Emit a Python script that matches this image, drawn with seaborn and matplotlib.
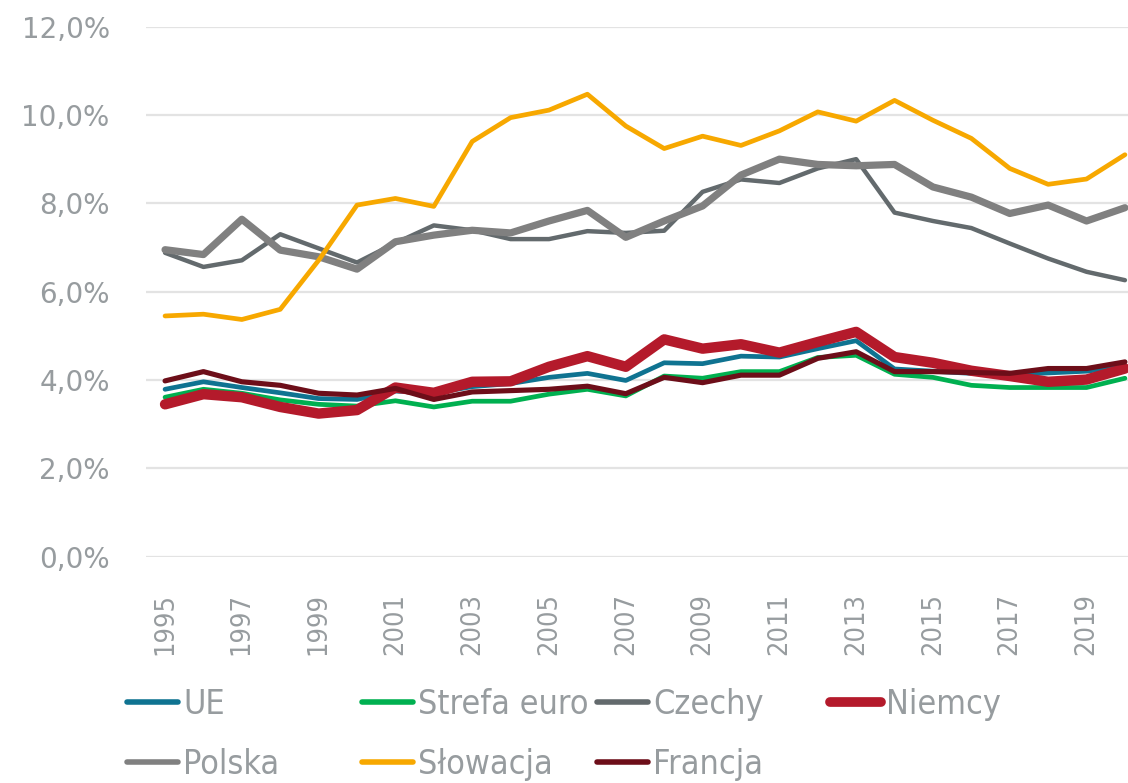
import matplotlib
matplotlib.use("Agg")
import matplotlib.pyplot as plt
from matplotlib.ticker import FuncFormatter, FixedLocator
from matplotlib.lines import Line2D
import seaborn as sns
import pandas as pd

years = list(range(1995, 2021))

ue = [3.79, 3.96, 3.83, 3.71, 3.58, 3.56, 3.75, 3.70, 3.85, 3.92, 4.06, 4.15, 3.99,
      4.39, 4.37, 4.54, 4.52, 4.71, 4.89, 4.25, 4.20, 4.15, 4.12, 4.16, 4.20, 4.30]
strefa_euro = [3.61, 3.79, 3.70, 3.55, 3.45, 3.41, 3.53, 3.39, 3.52, 3.52, 3.68, 3.79, 3.64,
               4.09, 4.04, 4.19, 4.19, 4.51, 4.56, 4.13, 4.06, 3.88, 3.83, 3.83, 3.83, 4.04]
czechy = [6.88, 6.56, 6.71, 7.30, 6.98, 6.66, 7.10, 7.50, 7.39, 7.19, 7.19, 7.37, 7.33,
          7.38, 8.26, 8.54, 8.46, 8.79, 9.00, 7.79, 7.60, 7.44, 7.09, 6.75, 6.45, 6.26]
niemcy = [3.45, 3.68, 3.61, 3.39, 3.24, 3.32, 3.83, 3.71, 3.96, 3.97, 4.30, 4.54, 4.30,
          4.92, 4.71, 4.81, 4.62, 4.86, 5.09, 4.52, 4.39, 4.21, 4.09, 3.96, 4.01, 4.26]
polska = [6.95, 6.84, 7.64, 6.94, 6.79, 6.51, 7.13, 7.28, 7.39, 7.33, 7.60, 7.84, 7.23,
          7.60, 7.94, 8.64, 9.00, 8.88, 8.85, 8.88, 8.37, 8.14, 7.77, 7.96, 7.60, 7.90]
slowacja = [5.45, 5.49, 5.37, 5.60, 6.71, 7.96, 8.11, 7.93, 9.40, 9.94, 10.11, 10.47, 9.75,
            9.24, 9.52, 9.31, 9.64, 10.07, 9.86, 10.33, 9.88, 9.47, 8.79, 8.43, 8.55, 9.10]
francja = [3.98, 4.19, 3.96, 3.88, 3.70, 3.66, 3.81, 3.56, 3.73, 3.76, 3.79, 3.86, 3.69,
           4.06, 3.94, 4.11, 4.11, 4.49, 4.64, 4.19, 4.19, 4.17, 4.15, 4.26, 4.26, 4.41]

series_names = ["UE", "Strefa euro", "Czechy", "Niemcy", "Polska", "Słowacja", "Francja"]
series_values = [ue, strefa_euro, czechy, niemcy, polska, slowacja, francja]
tick_years = list(range(1995, 2020, 2))

colors = {
    "UE": "#0f7391",
    "Strefa euro": "#00b050",
    "Czechy": "#636a6d",
    "Niemcy": "#b41a2b",
    "Polska": "#808080",
    "Słowacja": "#f7a800",
    "Francja": "#6d0e19",
}
widths = {
    "UE": 3.4,
    "Strefa euro": 3.4,
    "Czechy": 3.2,
    "Niemcy": 7.5,
    "Polska": 5.2,
    "Słowacja": 3.4,
    "Francja": 3.7,
}

df = pd.DataFrame({"rok": years})
for name, vals in zip(series_names, series_values):
    df[name] = vals
long = df.melt(id_vars="rok", var_name="seria", value_name="wartosc")

sns.set_style("white")
plt.rcParams["font.family"] = ["DejaVu Sans"]

text_gray = "#979c9f"

fig = plt.figure(figsize=(11.28, 7.83), dpi=100)
ax = fig.add_axes([0.1293, 0.289, 0.8707, 0.677])

for name in series_names:
    sub = long[long["seria"] == name]
    sns.lineplot(data=sub, x="rok", y="wartosc", ax=ax, color=colors[name],
                 linewidth=widths[name], solid_capstyle="round",
                 solid_joinstyle="round", legend=False)

ax.set_xlim(1994.5, 2020.08)
ax.set_ylim(0, 12)
ax.yaxis.set_major_locator(FixedLocator([0, 2, 4, 6, 8, 10, 12]))
ax.yaxis.set_major_formatter(FuncFormatter(lambda v, p: f"{v:.1f}%".replace(".", ",")))
ax.xaxis.set_major_locator(FixedLocator(tick_years))
ax.set_xticklabels([str(y) for y in tick_years], rotation=90)
ax.grid(axis="y", color="#e3e3e3", linewidth=1.6)
ax.set_axisbelow(True)
for s in ax.spines.values():
    s.set_visible(False)
ax.set_xlabel("")
ax.set_ylabel("")
ax.tick_params(axis="y", length=0, pad=26, labelsize=20, labelcolor=text_gray)
ax.tick_params(axis="x", length=0, pad=26, labelsize=19.5, labelcolor=text_gray)
for lab in ax.get_xticklabels():
    lab.set_fontstretch("condensed")

# legend laid out in four fixed columns
columns = [["UE", "Polska"], ["Strefa euro", "Słowacja"], ["Czechy", "Francja"], ["Niemcy"]]
col_x = [127, 362, 597, 830]
for names, x0 in zip(columns, col_x):
    handles = [Line2D([], [], color=colors[n], linewidth=7.0 if n == "Niemcy" else 4.0,
                      solid_capstyle="round") for n in names]
    leg = fig.legend(handles, names, loc="upper left",
                     bbox_to_anchor=(x0 / 1128, 1 - 688 / 783),
                     frameon=False, handlelength=1.5, handletextpad=0.15,
                     labelspacing=0.78, borderaxespad=0, borderpad=0,
                     prop={"size": 24.5, "stretch": "condensed"})
    for t in leg.get_texts():
        t.set_color(text_gray)

fig.savefig("out.png", dpi=100)
